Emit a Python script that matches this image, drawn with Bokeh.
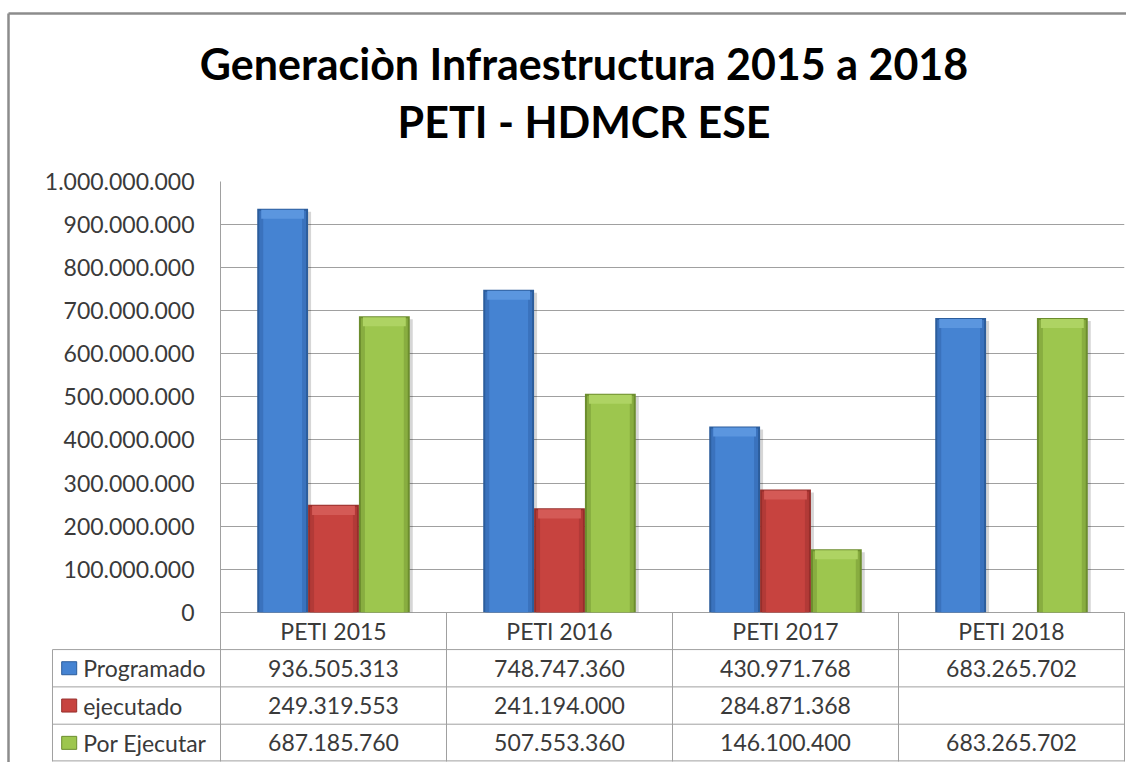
from bokeh.plotting import figure
from bokeh.models import (FactorRange, Range1d, ColumnDataSource, FixedTicker,
                          CustomJSTickFormatter)
from bokeh.transform import dodge
from bokeh.core.properties import value
from bokeh.embed import file_html
from bokeh.resources import INLINE

# ---------------- data ----------------
categories = ["PETI 2015", "PETI 2016", "PETI 2017", "PETI 2018"]
series = ["Programado", "ejecutado", "Por Ejecutar"]
programado = [936505313, 748747360, 430971768, 683265702]
ejecutado = [249319553, 241194000, 284871368, None]
por_ejecutar = [687185760, 507553360, 146100400, 683265702]
y_ticks = [0, 100000000, 200000000, 300000000, 400000000, 500000000,
           600000000, 700000000, 800000000, 900000000, 1000000000]
title_lines = ["Generaciòn Infraestructura 2015 a 2018", "PETI - HDMCR ESE"]

values_by_series = [programado, ejecutado, por_ejecutar]

# ---------------- style ----------------
edge_colors = ["#2c5d9c", "#962e2b", "#6c8d2e"]
mid_colors = ["#3a72bd", "#b23a37", "#88ad40"]
main_colors = ["#4583d2", "#c7433f", "#9dc64e"]
bevel_colors = ["#5b96df", "#d45a56", "#aed363"]

FONT = "Lato"
TXT = "#3a3a3a"
LINE = "#a0a0a0"

W, H = 1126, 762
LEFT, RIGHT, TOP, BOTTOM = 220, 2, 181, 1
PX = 1e9 / 430.7            # data units per pixel (vertical)
XPX = 1.0 / 226.0           # synthetic units per pixel (horizontal)
ROW = 37.3 * PX             # table row height in data units
Y_START = -4 * ROW

p = figure(x_range=FactorRange(factors=categories, range_padding=0),
           y_range=Range1d(Y_START, 1e9),
           width=W, height=H, output_backend="svg", toolbar_location=None,
           x_axis_location=None, title=None,
           min_border_left=LEFT, min_border_right=RIGHT,
           min_border_top=TOP, min_border_bottom=BOTTOM)
p.outline_line_color = None
p.background_fill_color = "white"
p.border_fill_color = "white"
p.xgrid.grid_line_color = None
p.ygrid.ticker = FixedTicker(ticks=y_ticks)
p.ygrid.grid_line_color = LINE
p.ygrid.grid_line_width = 1

ax = p.yaxis[0]
ax.ticker = FixedTicker(ticks=y_ticks)
ax.formatter = CustomJSTickFormatter(code="""
    return Math.round(tick).toString().replace(/\\B(?=(\\d{3})+(?!\\d))/g, '.');
""")
ax.major_label_text_font = FONT
ax.major_label_text_font_size = "23px"
ax.major_label_text_color = TXT
ax.major_tick_in = 0
ax.major_tick_out = 0
ax.minor_tick_in = 0
ax.minor_tick_out = 0
ax.major_label_standoff = 26
ax.axis_line_color = LINE

# ---------------- bars ----------------
BW = 0.225
offsets = [-BW, 0.0, BW]
for k, vals in enumerate(values_by_series):
    cats = [c for c, v in zip(categories, vals) if v is not None]
    tops = [v for v in vals if v is not None]
    src = ColumnDataSource(dict(
        cat=cats, top=tops,
        inner_top=[t - 2 * PX for t in tops],
        bevel_bot=[t - 10 * PX for t in tops],
        bevel_top=[t - 1 * PX for t in tops],
        shadow_top=[t - 3 * PX for t in tops],
    ))
    off = offsets[k]
    # soft shadow
    p.vbar(x=dodge("cat", off + 3 * XPX, range=p.x_range), top="shadow_top", bottom=0,
           width=BW, source=src, fill_color="black", fill_alpha=0.16, line_color=None)
    # body with darker edges
    p.vbar(x=dodge("cat", off, range=p.x_range), top="top", bottom=0, width=BW,
           source=src, fill_color=edge_colors[k], line_color=None)
    p.vbar(x=dodge("cat", off, range=p.x_range), top="inner_top", bottom=0,
           width=BW - 4 * XPX, source=src, fill_color=mid_colors[k], line_color=None)
    p.vbar(x=dodge("cat", off, range=p.x_range), top="inner_top", bottom=0,
           width=BW - 12 * XPX, source=src, fill_color=main_colors[k], line_color=None)
    # top bevel
    p.vbar(x=dodge("cat", off, range=p.x_range), top="bevel_top", bottom="bevel_bot",
           width=BW - 8 * XPX, source=src, fill_color=bevel_colors[k], line_color=None)

# ---------------- data table ----------------
def fmt(v):
    return "" if v is None else f"{v:,}".replace(",", ".")

LABEL_COL = 168 * XPX   # width of the series-name column (synthetic units)
first = categories[0]
last = categories[-1]

# header row (category names)
hdr = ColumnDataSource(dict(cat=categories, y=[-0.5 * ROW] * len(categories), t=categories))
p.text(x="cat", y="y", text="t", source=hdr, text_align="center", text_baseline="middle",
       text_font=value(FONT), text_font_size="23px", text_color=TXT, level="overlay")

# value cells
cx, cy, ct = [], [], []
for k, vals in enumerate(values_by_series):
    for c, v in zip(categories, vals):
        cx.append(c)
        cy.append(-(k + 1.5) * ROW)
        ct.append(fmt(v))
cells = ColumnDataSource(dict(cat=cx, y=cy, t=ct))
p.text(x="cat", y="y", text="t", source=cells, text_align="center", text_baseline="middle",
       text_font=value(FONT), text_font_size="23px", text_color=TXT, level="overlay")

# series-name column with swatches
names = ColumnDataSource(dict(
    cat=[first] * len(series), y=[-(k + 1.5) * ROW for k in range(len(series))],
    t=series, fill=main_colors, edge=edge_colors))
p.rect(x=dodge("cat", -0.5 - 151.3 * XPX, range=p.x_range), y="y", width=15, height=13,
       width_units="screen", height_units="screen", source=names,
       fill_color="fill", line_color="edge", level="overlay")
p.text(x=dodge("cat", -0.5 - 137.3 * XPX, range=p.x_range), y="y", text="t", source=names,
       text_align="left", text_baseline="middle", text_font=value(FONT),
       text_font_size="23px", text_color=TXT, level="overlay")

# horizontal table lines
hl = ColumnDataSource(dict(c0=[first] * 4, c1=[last] * 4,
                           y=[-ROW * i for i in range(1, 4)] + [Y_START + 0.6 * PX]))
p.segment(x0=dodge("c0", -0.5 - LABEL_COL, range=p.x_range), y0="y",
          x1=dodge("c1", 0.5, range=p.x_range), y1="y", source=hl,
          line_color=LINE, line_width=1, level="overlay")
# vertical column dividers
vl = ColumnDataSource(dict(cat=categories, y0=[0] * 4, y1=[Y_START] * 4))
p.segment(x0=dodge("cat", 0.5, range=p.x_range), y0="y0",
          x1=dodge("cat", 0.5, range=p.x_range), y1="y1", source=vl,
          line_color=LINE, line_width=1, level="overlay")
lv = ColumnDataSource(dict(cat=[first], y0=[-ROW], y1=[Y_START]))
p.segment(x0=dodge("cat", -0.5 - LABEL_COL, range=p.x_range), y0="y0",
          x1=dodge("cat", -0.5 - LABEL_COL, range=p.x_range), y1="y1", source=lv,
          line_color=LINE, line_width=1, level="overlay")

# outer chart-area border (top and left)
Y_BORDER = 1e9 + 168 * PX
X_BORDER = -0.5 - 212 * XPX
tb = ColumnDataSource(dict(c=[first], y=[Y_BORDER]))
p.segment(x0=dodge("c", X_BORDER, range=p.x_range), y0="y",
          x1=dodge("c", 5.0, range=p.x_range), y1="y", source=tb,
          line_color="#8c8c8c", line_width=2.5, level="overlay")
lb = ColumnDataSource(dict(c=[first], y0=[Y_BORDER], y1=[Y_START - 20 * PX]))
p.segment(x0=dodge("c", X_BORDER, range=p.x_range), y0="y0",
          x1=dodge("c", X_BORDER, range=p.x_range), y1="y1", source=lb,
          line_color="#8c8c8c", line_width=2.5, level="overlay")

# ---------------- title ----------------
ttl = ColumnDataSource(dict(c=[first, first], y=[1e9 + 118 * PX, 1e9 + 59.5 * PX],
                            t=title_lines))
p.text(x=dodge("c", -0.5 + 363.5 * XPX, range=p.x_range), y="y", text="t", source=ttl,
       text_align="center", text_baseline="middle",
       text_font=value("Lato"), text_font_style="bold",
       text_font_size="43px", text_color="black", level="overlay")

open("out.html", "w").write(file_html(p, INLINE))
